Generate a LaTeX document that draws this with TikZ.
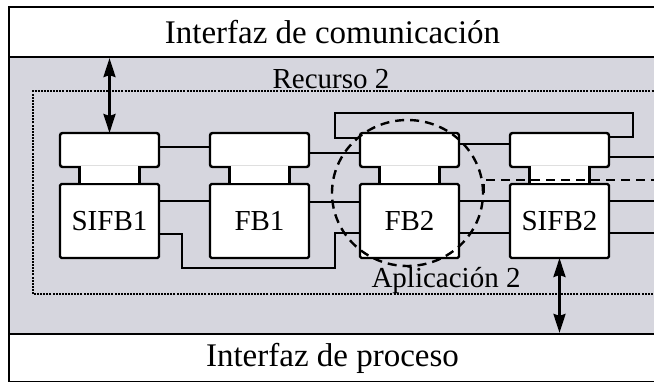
\documentclass[tikz,border=0pt]{standalone}
\usepackage{fontspec}
\setmainfont{Liberation Serif}
\usetikzlibrary{arrows.meta,shapes.geometric,positioning}
\definecolor{resgray}{RGB}{214,214,222}

\tikzstyle{band} = [rectangle, draw=black, line width=2.2pt, inner sep=0pt, font=\fontsize{33}{36}\selectfont]
\tikzstyle{block} = [rectangle, minimum width=99pt, minimum height=74pt, draw=black, fill=white, line width=2.4pt, outer sep=0pt, rounded corners=1.5pt, font=\fontsize{29}{32}\selectfont]
\tikzstyle{head} = [rectangle, minimum width=99pt, minimum height=34pt, draw=black, fill=white, line width=2.4pt, outer sep=0pt, rounded corners=2.5pt]
\tikzstyle{wire} = [line width=2pt]
\tikzstyle{arrow} = [line width=2.6pt, {Stealth[length=19pt,width=12pt,inset=2pt]}-{Stealth[length=19pt,width=12pt,inset=2pt]}]
\tikzstyle{resbox} = [draw=black, line width=2.4pt, dash pattern=on 2pt off 1.1pt]
\tikzstyle{appbox} = [ellipse, draw=black, line width=2.4pt, dash pattern=on 9pt off 6pt]
\tikzstyle{lbl} = [inner sep=0pt, font=\fontsize{29}{32}\selectfont]

% neck between event head and block
\newcommand{\neck}[1]{%
	\fill [white] ([xshift=20.7pt,yshift=1.2pt]#1.north west) rectangle ([xshift=-20.7pt,yshift=1.3pt]#1e.south east);
	\draw [line width=2.4pt] ([xshift=19.5pt]#1.north west) -- ([xshift=19.5pt]#1e.south west);
	\draw [line width=2.4pt] ([xshift=-19.5pt]#1.north east) -- ([xshift=-19.5pt]#1e.south east);}

\begin{document}
\begin{tikzpicture}[x=1pt, y=1pt, node distance=150pt]
			\useasboundingbox (0,0) rectangle (654,381);
			\clip (0,0) rectangle (654,381);

			\node (res) [band, fill=resgray, minimum width=647pt, minimum height=277pt] at (332.5,185.5) {};
			\node (comm) [band, minimum width=647pt, minimum height=50pt] at (332.5,349) {Interfaz de comunicación};
			\node (proc) [band, minimum width=647pt, minimum height=48pt] at (332.5,23) {Interfaz de proceso};
			\draw [resbox] (33,87) rectangle (670,290);
			\coordinate (edge) at (660,0);

			\node (sifb1) [block] at (109.5,160) {SIFB1};
			\node (fb1) [block, right of=sifb1] {FB1};
			\node (fb2) [block, right of=fb1] {FB2};
			\node (sifb2) [block, right of=fb2] {SIFB2};
			\node (sifb1e) [head, above of=sifb1, node distance=71pt] {};
			\node (fb1e) [head, above of=fb1, node distance=71pt] {};
			\node (fb2e) [head, above of=fb2, node distance=71pt] {};
			\node (sifb2e) [head, above of=sifb2, node distance=71pt] {};
			\neck{sifb1}
			\neck{fb1}
			\neck{fb2}
			\neck{sifb2}

			\draw [wire] ([yshift=3pt]sifb1e.east) -- ([yshift=3pt]fb1e.west);
			\draw [wire] ([yshift=-3pt]fb1e.east) -- ([yshift=-3pt]fb2e.west);
			\draw [wire] ([yshift=6pt]fb2e.east) -- ([yshift=6pt]sifb2e.west);
			\draw [wire] ([yshift=13pt]sifb2e.east) -- ++(24pt,0) -- ++(0,24pt) -| ([xshift=-25pt,yshift=12pt]fb2e.west) -- ([yshift=12pt]fb2e.west);
			\draw [wire] ([yshift=-7pt]sifb2e.east) -- ([yshift=-7pt]sifb2e.east -| edge);
			\draw [wire] ([yshift=20pt]sifb1.east) -- ([yshift=20pt]fb1.west);
			\draw [wire] ([yshift=19pt]fb1.east) -- ([yshift=19pt]fb2.west);
			\draw [wire] ([yshift=20pt]fb2.east) -- ([yshift=20pt]sifb2.west);
			\draw [wire] ([yshift=20pt]sifb2.east) -- ([yshift=20pt]sifb2.east -| edge);
			\draw [wire] ([yshift=-13pt]sifb1.east) -- ++(23pt,0) |- ([xshift=-25pt,yshift=-47pt]fb2.west) |- ([yshift=-12pt]fb2.west);
			\draw [wire] ([yshift=-12pt]fb2.east) -- ([yshift=-12pt]sifb2.west);
			\draw [wire] ([yshift=-12pt]sifb2.east) -- ([yshift=-12pt]sifb2.east -| edge);

			\node (app) [appbox, minimum width=151pt, minimum height=146pt] at (407.5,188) {};
			\draw [appbox] (app.east) |- (app.east |- 0,201) -- (edge |- 0,201);

			\draw [arrow] (sifb1e.north |- comm.south) -- (sifb1e.north);
			\draw [arrow] (sifb2.south) -- (sifb2.south |- proc.north);

			\node (recl) [lbl, anchor=base] at (331,292) {Recurso 2};
			\node (appl) [lbl, anchor=base] at (446,94) {Aplicación 2};
		\end{tikzpicture}
\end{document}
